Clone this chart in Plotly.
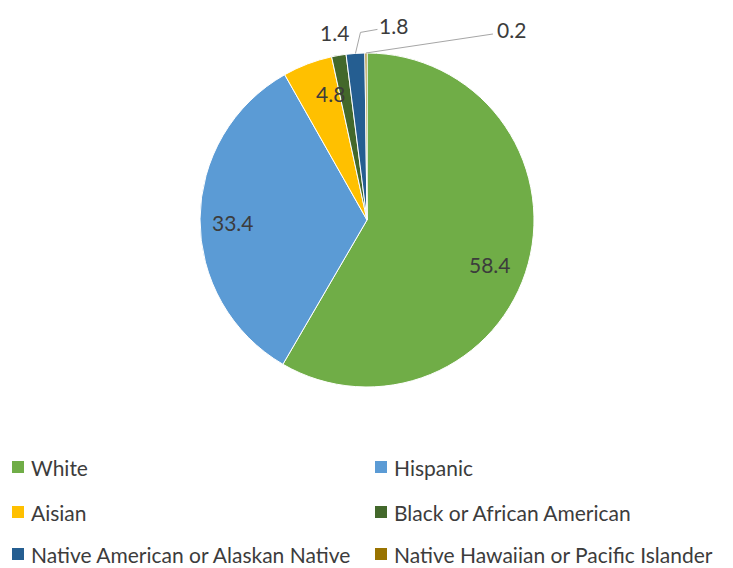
import math
import plotly.graph_objects as go

# Population share by race / ethnicity (%)
groups = ["White", "Hispanic", "Aisian", "Black or African American",
          "Native American or Alaskan Native", "Native Hawaiian or Pacific Islander"]
shares = [58.4, 33.4, 4.8, 1.4, 1.8, 0.2]
colors = ["#70AD47", "#5B9BD5", "#FFC000", "#43682B", "#255E91", "#997300"]

W, H = 733, 568
CX, CY, R = 367, 220, 167          # pie centre and radius (px)
FONT = "Lato"
TXT = "#3C3C3C"

fig = go.Figure()
fig.add_trace(go.Pie(
    labels=groups, values=shares, sort=False, direction="clockwise", rotation=0,
    marker=dict(colors=colors, line=dict(color="white", width=1)),
    textinfo="none", hoverinfo="label+value", showlegend=False,
    domain=dict(x=[(CX - R) / W, (CX + R) / W], y=[1 - (CY + R) / H, 1 - (CY - R) / H]),
))

# mid-angle of each slice, measured clockwise from 12 o'clock
total = sum(shares)
mids = []
acc = 0.0
for v in shares:
    mids.append((acc + v / 2) / total * 360)
    acc += v


def pt(theta, rf):
    t = math.radians(theta)
    return CX + rf * R * math.sin(t), CY - rf * R * math.cos(t)


def paper(x, y):
    return x / W, 1 - y / H


def value_label(x, y, v):
    px_, py_ = paper(x, y)
    return dict(x=px_, y=py_, xref="paper", yref="paper", showarrow=False,
                xanchor="center", yanchor="middle", text=f"{v:.1f}",
                font=dict(family=FONT, size=21, color=TXT))


annotations, shapes = [], []

# labels drawn inside the three large slices: (radius fraction, dx, dy)
inside = {0: (0.78, -3, 11), 1: (0.80, 0, 3), 2: (0.80, 11, -2)}
for i, (rf, dx, dy) in inside.items():
    x, y = pt(mids[i], rf)
    annotations.append(value_label(x + dx, y + dy, shares[i]))

# labels outside the thin slices, offsets from the rim point, with optional leader line
outside = {3: (-4, -23, None), 4: (38, -28, [(5, -21), (22, -24)]), 5: (146, -24, [(127, -19)])}
for i, (dx, dy, bends) in outside.items():
    x0, y0 = pt(mids[i], 1.0)
    annotations.append(value_label(x0 + dx, y0 + dy, shares[i]))
    if bends:
        path = "M {},{}".format(*paper(x0, y0))
        for bx, by in bends:
            path += " L {},{}".format(*paper(x0 + bx, y0 + by))
        shapes.append(dict(type="path", path=path, xref="paper", yref="paper",
                           line=dict(color="#A6A6A6", width=1)))

# legend: three rows of two entries (swatch + label)
col_x = [12, 375]
row_y = [467, 512, 554]
SW = 12
for i, name in enumerate(groups):
    x = col_x[i % 2]
    y = row_y[i // 2]
    x0, y0 = paper(x, y - SW / 2)
    x1, y1 = paper(x + SW, y + SW / 2)
    shapes.append(dict(type="rect", xref="paper", yref="paper", x0=x0, x1=x1, y0=y1, y1=y0,
                       fillcolor=colors[i], line=dict(width=0)))
    tx, ty = paper(x + SW + 5, y)
    annotations.append(dict(x=tx, y=ty, xref="paper", yref="paper", showarrow=False,
                            xanchor="left", yanchor="middle", text=name,
                            font=dict(family=FONT, size=21, color=TXT)))

fig.update_layout(
    width=W, height=H,
    margin=dict(l=0, r=0, t=0, b=0),
    paper_bgcolor="white", plot_bgcolor="white",
    showlegend=False,
    annotations=annotations, shapes=shapes,
)

fig.write_html("out.html")
